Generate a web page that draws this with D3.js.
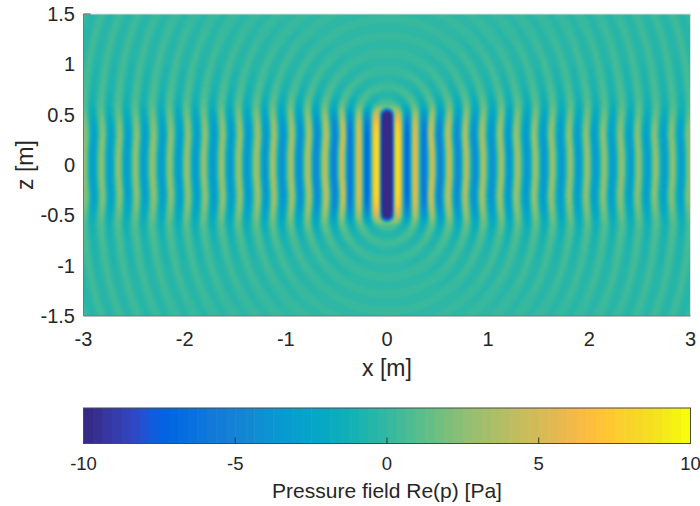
<!DOCTYPE html>
<html><head><meta charset="utf-8">
<script src="https://cdnjs.cloudflare.com/ajax/libs/d3/7.8.5/d3.min.js"></script>
<style>html,body{margin:0;padding:0;background:#fff}svg{display:block}text{font-family:"Liberation Sans",Arial,sans-serif;fill:#262626}</style>
</head><body><div id="chart"></div>
<script>
// Fringe extrema read along z = 0 (x in metres, pressure in Pa); the field is mirror-symmetric
const ringRadius = [0,.04,.09,.11,.198,.277,.366,.446,.525,.614,.703,.782,.871,.95,1.04,1.129,1.208,1.287,1.386,1.465,1.554,1.634,1.723,1.812,1.891,1.98,2.059,2.149,2.228,2.317,2.406,2.485,2.574,2.653,2.743,2.822,2.911,2.99,3.075,3.16,3.245];
const ringPressure = [-14,-14,8.6,8.6,-7.5,5.8,-6.3,5.0,-5.6,4.3,-5,3.9,-4.6,3.6,-4.3,3.4,-4.1,3.2,-3.9,3.1,-3.8,3.0,-3.7,2.9,-3.6,2.9,-3.5,2.8,-3.5,2.8,-3.4,2.7,-3.4,2.7,-3.3,2.6,-3.3,2.6,-3.2,2.5,-3.2];
// Relative fringe strength read at each height (rows) and distance (columns)
const strengthX = [0,.1,.4,.8,1.5,2.2,3];
const strengthZ = [0,.1,.2,.3,.4,.5,.6,.7,.85,1,1.25,1.5];
const strength = [
 [1,1,1,1,1,1,1],
 [1,1,1,1,1,1,1],
 [1,1,1,1,.97,.97,.97],
 [1,.97,1,.95,.95,.95,.95],
 [1,.85,.92,.88,.88,.82,.82],
 [.9,.55,.65,.68,.68,.62,.55],
 [.1,.12,.28,.42,.42,.4,.36],
 [.07,.08,.16,.25,.3,.3,.3],
 [.05,.06,.09,.15,.2,.23,.25],
 [.04,.05,.07,.11,.15,.18,.2],
 [.04,.04,.06,.08,.11,.13,.16],
 [.03,.04,.05,.07,.09,.11,.14]];
// Sideways crest displacement read at each height (m)
const shiftZ = [0,.1,.2,.3,.4,.5,.6,.8,1.5];
const crestShift = [0,0,.006,.012,.008,0,-.006,0,0];
const sourceHalfLength = 0.5;
const xTicks = [-3,-2,-1,0,1,2,3];
const zTicks = [-1.5,-1,-.5,0,.5,1,1.5];
const barTicks = [-10,-5,0,5,10];
const parula = [[.2081,.1663,.5292],[.2116,.1898,.5777],[.2123,.2138,.627],[.2081,.2386,.6771],[.1959,.2645,.7279],[.1707,.2919,.7792],[.1253,.3242,.8303],[.0591,.3598,.8683],[.0117,.3875,.882],[.006,.4086,.8828],[.0165,.4266,.8786],[.0329,.443,.872],[.0498,.4586,.8641],[.0629,.4737,.8554],[.0723,.4887,.8467],[.0779,.504,.8384],[.0793,.52,.8312],[.0749,.5375,.8263],[.0641,.557,.824],[.0488,.5772,.8228],[.0343,.5966,.8199],[.0265,.6137,.8135],[.0239,.6287,.8038],[.0231,.6418,.7913],[.0228,.6535,.7768],[.0267,.6642,.7607],[.0384,.6743,.7436],[.059,.6838,.7254],[.0843,.6928,.7062],[.1133,.7015,.6859],[.1453,.7098,.6646],[.1801,.7177,.6424],[.2178,.725,.6193],[.2586,.7317,.5954],[.3022,.7376,.5712],[.3482,.7424,.5473],[.3953,.7459,.5244],[.442,.7481,.5033],[.4871,.7491,.484],[.53,.7491,.4661],[.5709,.7485,.4494],[.6099,.7473,.4337],[.6473,.7456,.4188],[.6834,.7435,.4044],[.7184,.7411,.3905],[.7525,.7384,.3768],[.7858,.7356,.3633],[.8185,.7327,.3498],[.8507,.7299,.336],[.8824,.7274,.3217],[.9139,.7258,.3063],[.945,.7261,.2886],[.9739,.7314,.2666],[.9938,.7455,.2403],[.999,.7653,.2164],[.9955,.7861,.1967],[.988,.8066,.1794],[.9789,.8271,.1633],[.9697,.8481,.1475],[.9626,.8705,.1309],[.9589,.8949,.1132],[.9598,.9218,.0948],[.9661,.9514,.0755],[.9763,.9831,.0538]];

const W=700,H=506;
const plot={l:83.5,r:690.5,t:14,b:316}, bar={t:408,b:443.5};
const x=d3.scaleLinear().domain([-3,3]).range([plot.l,plot.r]);
const z=d3.scaleLinear().domain([-1.5,1.5]).range([plot.b,plot.t]);
const c=d3.scaleLinear().domain([-10,10]).range([plot.l,plot.r]);
const level=d3.scaleQuantize().domain([-10,10]).range(d3.range(64));
const rgb=i=>parula[i].map(v=>Math.round(v*255));

const idx=(arr,v)=>Math.max(0,Math.min(arr.length-2,d3.bisectRight(arr,v)-1));
const lin=(xs,ys,v)=>{const i=idx(xs,v),t=Math.max(0,Math.min(1,(v-xs[i])/(xs[i+1]-xs[i])));return ys[i]+(ys[i+1]-ys[i])*t;};
function strengthAt(ax,az){
  const j=idx(strengthZ,az),i=idx(strengthX,ax);
  const tz=Math.min(1,(az-strengthZ[j])/(strengthZ[j+1]-strengthZ[j]));
  const tx=Math.min(1,(ax-strengthX[i])/(strengthX[i+1]-strengthX[i]));
  const a=strength[j][i]+(strength[j][i+1]-strength[j][i])*tx;
  const b=strength[j+1][i]+(strength[j+1][i+1]-strength[j+1][i])*tx;
  return a+(b-a)*tz;
}
function field(px,pz){
  const ax=Math.abs(px),az=Math.abs(pz);
  const up=Math.max(0,az-sourceHalfLength);
  const sx=ax>.4?ax+lin(shiftZ,crestShift,az):ax;
  const r=Math.hypot(sx,up);
  const i=idx(ringRadius,r);
  const t=(r-ringRadius[i])/(ringRadius[i+1]-ringRadius[i]);
  const e=(1-Math.cos(Math.PI*Math.min(1,t)))/2;
  return (ringPressure[i]+(ringPressure[i+1]-ringPressure[i])*e)*strengthAt(ax,az);
}

const svg=d3.select('#chart').append('svg').attr('width',W).attr('height',H);
// heat map, one canvas pixel per screen pixel, positions through the scales
const cw=Math.round(plot.r-plot.l),ch=Math.round(plot.b-plot.t);
const cv=document.createElement('canvas');cv.width=cw;cv.height=ch;
const ctx=cv.getContext('2d'),img=ctx.createImageData(cw,ch);
for(let j=0;j<ch;j++)for(let i=0;i<cw;i++){
  const v=field(x.invert(plot.l+i+.5),z.invert(plot.t+j+.5));
  const col=rgb(level(Math.max(-10,Math.min(9.999,v))));
  const k=(j*cw+i)*4;img.data[k]=col[0];img.data[k+1]=col[1];img.data[k+2]=col[2];img.data[k+3]=255;
}
ctx.putImageData(img,0,0);
const soft=document.createElement('canvas');soft.width=cw;soft.height=ch;
const sctx=soft.getContext('2d');sctx.drawImage(cv,0,0);sctx.filter='blur(0.8px)';sctx.drawImage(cv,0,0);
svg.append('image').attr('x',plot.l).attr('y',plot.t).attr('width',cw).attr('height',ch).attr('href',soft.toDataURL());
// axes box
svg.append('path').attr('d',`M${plot.l},${plot.t}H${plot.r}V${plot.b}`).attr('fill','none').attr('stroke','#d9e2dc');
svg.append('path').attr('d',`M${plot.l},${plot.t}V${plot.b}H${plot.r}`).attr('fill','none').attr('stroke','#777');
svg.append('line').attr('x1',plot.l).attr('x2',plot.l+7).attr('y1',plot.t).attr('y2',plot.t).attr('stroke','#555');

const fmt=d=>String(d);
const tick=20;
svg.selectAll('.xt').data(xTicks).join('text').attr('x',d=>x(d)).attr('y',345.5).attr('text-anchor','middle').attr('font-size',tick).text(fmt);
svg.selectAll('.zt').data(zTicks).join('text').attr('x',75).attr('y',d=>z(d)+7).attr('text-anchor','end').attr('font-size',tick).text(fmt);
svg.append('text').attr('x',387).attr('y',376).attr('text-anchor','middle').attr('font-size',23).text('x [m]');
svg.append('text').attr('transform','translate(33,165) rotate(-90)').attr('text-anchor','middle').attr('font-size',23).text('z [m]');

// colour bar
svg.selectAll('.cb').data(parula).join('rect')
 .attr('x',(d,i)=>c(-10+i*20/64)).attr('width',(plot.r-plot.l)/64+.6)
 .attr('y',bar.t).attr('height',bar.b-bar.t)
 .attr('fill',(d,i)=>`rgb(${rgb(i).join(',')})`);
svg.append('rect').attr('x',plot.l).attr('y',bar.t).attr('width',plot.r-plot.l).attr('height',bar.b-bar.t).attr('fill','none').attr('stroke','#4a4a4a');
svg.selectAll('.bt').data(barTicks.slice(1,-1)).join('line').attr('x1',d=>c(d)).attr('x2',d=>c(d)).attr('y1',bar.b-6).attr('y2',bar.b).attr('stroke','#333');
svg.selectAll('.bl').data(barTicks).join('text').attr('x',d=>c(d)).attr('y',470).attr('text-anchor','middle').attr('font-size',18.5).text(fmt);
svg.append('text').attr('x',387).attr('y',498).attr('text-anchor','middle').attr('font-size',21).text('Pressure field Re(p) [Pa]');
</script></body></html>
